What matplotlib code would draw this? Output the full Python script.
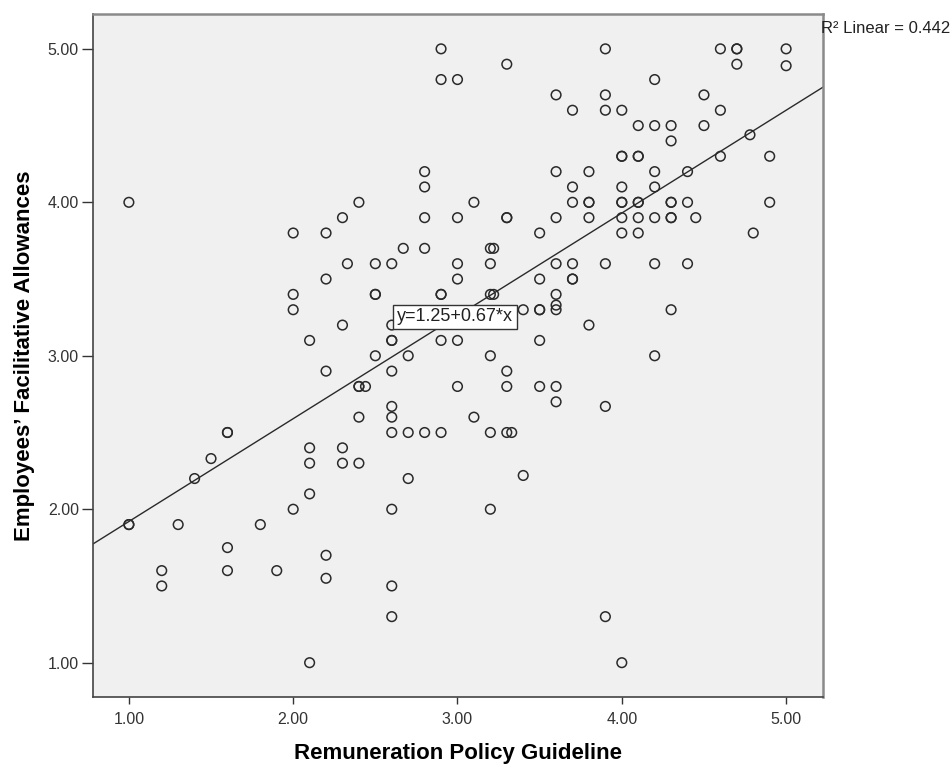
import numpy as np
import matplotlib.pyplot as plt

plt.rcParams['font.family'] = ['Liberation Sans', 'DejaVu Sans']

# Remuneration Policy Guideline (x) vs Employees' Facilitative Allowances (y)
# grouped by y row
rpg = [2.9, 3.9, 4.6, 4.7, 4.7, 5.0,
       3.3, 4.7, 5.0,
       2.9, 3.0, 4.2,
       3.6, 3.9, 4.5,
       3.7, 3.9, 4.0, 4.6,
       4.1, 4.2, 4.3, 4.5,
       4.78, 4.3,
       4.0, 4.0, 4.1, 4.1, 4.6, 4.9,
       2.8, 3.6, 3.8, 4.2, 4.4,
       2.8, 3.7, 4.0, 4.2,
       1.0, 2.4, 3.1, 3.7, 3.8, 3.8, 4.0, 4.0, 4.1, 4.1, 4.3, 4.3, 4.4, 4.9,
       2.3, 2.8, 3.0, 3.3, 3.3, 3.6, 3.8, 4.0, 4.1, 4.2, 4.3, 4.3, 4.45,
       2.0, 2.2, 3.5, 4.0, 4.1, 4.8,
       2.67, 2.8, 3.2, 3.22,
       2.33, 2.5, 2.6, 3.0, 3.2, 3.6, 3.7, 3.9, 4.2, 4.4,
       2.2, 3.0, 3.5, 3.7, 3.7,
       2.0, 2.5, 2.5, 2.9, 2.9, 3.2, 3.22, 3.6,
       3.6,
       2.0, 3.4, 3.5, 3.5, 3.6, 4.3,
       2.3, 2.6, 3.8,
       2.1, 2.6, 2.6, 2.9, 3.0, 3.5,
       2.5, 2.7, 3.2, 4.2,
       2.2, 2.6, 3.3,
       2.4, 2.4, 2.44, 3.0, 3.3, 3.5, 3.6,
       3.6,
       2.6, 3.9,
       2.4, 2.6, 3.1,
       1.6, 1.6, 2.6, 2.7, 2.8, 2.9, 3.2, 3.3, 3.33,
       2.1, 2.3,
       1.5,
       2.1, 2.3, 2.4,
       3.4,
       1.4, 2.7,
       2.1,
       2.0, 2.6, 3.2,
       1.0, 1.0, 1.3, 1.8,
       1.6,
       2.2,
       1.2, 1.6, 1.9,
       2.2,
       1.2, 2.6,
       2.6, 3.9,
       2.1, 4.0]

efa = [5.0] * 6 + [4.9] * 2 + [4.89] + [4.8] * 3 + [4.7] * 3 + [4.6] * 4 + \
      [4.5] * 4 + [4.44] + [4.4] + [4.3] * 6 + [4.2] * 5 + [4.1] * 4 + \
      [4.0] * 14 + [3.9] * 13 + [3.8] * 6 + [3.7] * 4 + [3.6] * 10 + \
      [3.5] * 5 + [3.4] * 8 + [3.33] + [3.3] * 6 + [3.2] * 3 + [3.1] * 6 + \
      [3.0] * 4 + [2.9] * 3 + [2.8] * 7 + [2.7] + [2.67] * 2 + [2.6] * 3 + \
      [2.5] * 9 + [2.4] * 2 + [2.33] + [2.3] * 3 + [2.22] + [2.2] * 2 + \
      [2.1] + [2.0] * 3 + [1.9] * 4 + [1.75] + [1.7] + [1.6] * 3 + \
      [1.55] + [1.5] * 2 + [1.3] * 2 + [1.0] * 2

intercept = 1.25
slope = 0.67
r2 = 0.442

xticks = [1, 2, 3, 4, 5]
yticks = [1, 2, 3, 4, 5]

fig = plt.figure(figsize=(9.51, 7.66), dpi=100)
ax = fig.add_axes([0.0975, 0.09, 0.768, 0.8917])
ax.set_facecolor('#f0f0f0')

ax.scatter(rpg, efa, s=48, facecolors='none', edgecolors='#2a2a2a',
           linewidths=1.1, zorder=3)

xlim = (0.78, 5.225)
ax.set_xlim(xlim)
ax.set_ylim(0.776, 5.227)
xl = np.array(xlim)
ax.plot(xl, intercept + slope * xl, color='#2a2a2a', lw=1.0, zorder=2)

ax.text(2.985, 3.255, 'y=%.2f+%.2f*x' % (intercept, slope), fontsize=13,
        ha='center', va='center', zorder=5, color='#222222',
        bbox=dict(boxstyle='square,pad=0.2', fc='white', ec='#333333', lw=1))

fig.text(0.863, 0.963, 'R\u00b2 Linear = %.3f' % r2, fontsize=12,
         ha='left', va='center', color='#222222')

ax.set_xticks(xticks)
ax.set_yticks(yticks)
ax.set_xticklabels(['%.2f' % v for v in xticks])
ax.set_yticklabels(['%.2f' % v for v in yticks])
ax.tick_params(axis='x', length=5, width=1, color='#333333', labelsize=11.5,
               pad=6, labelcolor='#333333')
ax.tick_params(axis='y', length=8, width=1, color='#333333', labelsize=11.5,
               pad=2, labelcolor='#333333')

for s in ['left', 'bottom']:
    ax.spines[s].set_color('#444444')
    ax.spines[s].set_linewidth(1.2)
for s in ['top', 'right']:
    ax.spines[s].set_color('#8a8a8a')
    ax.spines[s].set_linewidth(1.8)

ax.set_xlabel('Remuneration Policy Guideline', fontsize=16, fontweight='bold',
              labelpad=11)
ax.set_ylabel('Employees\u2019 Facilitative Allowances', fontsize=16,
              fontweight='bold', labelpad=9)

fig.savefig('out.png', dpi=100)
